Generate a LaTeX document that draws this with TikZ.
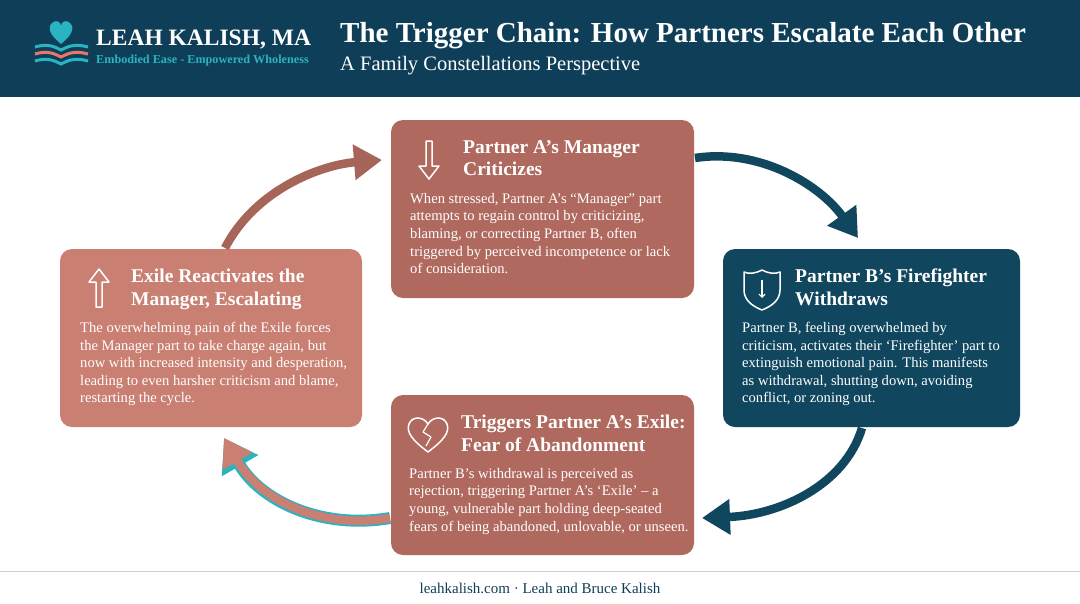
\documentclass[tikz,border=0pt]{standalone}
\usepackage{fontspec}
\setmainfont{Liberation Serif}
\usetikzlibrary{arrows.meta}
\definecolor{navy}{HTML}{0F3F58}
\definecolor{boxnavy}{HTML}{10475F}
\definecolor{brick}{HTML}{B0695E}
\definecolor{salmon}{HTML}{C97F71}
\definecolor{teal}{HTML}{2AB3C0}
\definecolor{coral}{HTML}{E8776A}
\begin{document}
\begin{tikzpicture}[x=1pt,y=-1pt,
  card/.style={rounded corners=12pt,draw=none},
  ttl/.style={anchor=north west,text=white,font=\bfseries\fontsize{19.5}{22.5}\selectfont,align=left,inner sep=0},
  bdy/.style={anchor=north west,text=white,font=\fontsize{14.6}{17.6}\selectfont,align=left,inner sep=0},
  icon/.style={white,line width=1.5pt,line join=round},
  flow/.style={line width=8.5pt,-{Triangle[length=28pt,width=34pt]}}]
\useasboundingbox (0,0) rectangle (1080,603);
\fill[white] (0,0) rectangle (1080,603);
\fill[navy] (0,0) rectangle (1080,97);
% logo
\fill[teal] (61,44) .. controls (50,35) and (47,28) .. (52,23) .. controls (56,19) and (61,22) .. (61,26) .. controls (61,22) and (66,19) .. (70,23) .. controls (75,28) and (72,35) .. (61,44) -- cycle;
\foreach \yy/\cc in {47/teal,54/coral,61/teal}{
 \draw[\cc,line width=3pt] (35,\yy) .. controls (48,\yy-4) and (55,\yy) .. (61,\yy+3) .. controls (67,\yy) and (74,\yy-4) .. (88,\yy);}
\node[anchor=west,text=white,font=\bfseries\fontsize{23.5}{26}\selectfont,inner sep=0] (brand) at (96,40) {LEAH KALISH, MA};
\node[anchor=west,text=teal,font=\bfseries\fontsize{12.2}{14}\selectfont,inner sep=0] (tag) at (96,61) {Embodied Ease - Empowered Wholeness};
\node[anchor=west,text=white,font=\bfseries\fontsize{29}{32}\selectfont,inner sep=0] (title) at (340,36) {The Trigger Chain: How Partners Escalate Each Other};
\node[anchor=west,text=white,font=\fontsize{20.5}{23}\selectfont,inner sep=0] (sub) at (340,66) {A Family Constellations Perspective};
% cards
\fill[brick,card] (391,120) rectangle (694,298);
\fill[boxnavy,card] (723,249) rectangle (1020,427);
\fill[brick,card] (391,395) rectangle (694,555);
\fill[salmon,card] (60,249) rectangle (362,427);
% icons
\draw[icon] (426,141) -- (432,141) -- (432,166) -- (439,166) -- (429,179) -- (419,166) -- (426,166) -- cycle;
\draw[icon] (96,307) -- (102,307) -- (102,282) -- (109,282) -- (99,269) -- (89,282) -- (96,282) -- cycle;
\draw[icon] (762,270) .. controls (770,274) and (775,274) .. (780,272) -- (780,290) .. controls (780,300) and (772,306) .. (762,310) .. controls (752,306) and (744,300) .. (744,290) -- (744,272) .. controls (749,274) and (754,274) .. (762,270) -- cycle;
\draw[icon,line width=1.2pt,-{Straight Barb[length=3pt]}] (762,280) -- (762,298);
\draw[icon] (428,452) .. controls (412,440) and (406,432) .. (409,424) .. controls (412,416) and (423,416) .. (428,424) .. controls (433,416) and (444,416) .. (447,424) .. controls (450,432) and (444,440) .. (428,452) -- cycle;
\draw[icon,line width=1.2pt] (428,424) -- (423,432) -- (431,437) -- (426,446);
% titles
\node[ttl] (t1) at (463,140) {Partner A’s Manager\\Criticizes};
\node[bdy] (b1) at (410,193) {When stressed, Partner A’s “Manager” part\\attempts to regain control by criticizing,\\blaming, or correcting Partner B, often\\triggered by perceived incompetence or lack\\of consideration.};
\node[ttl] (t2) at (795,269) {Partner B’s Firefighter\\Withdraws};
\node[bdy] (b2) at (742,322) {Partner B, feeling overwhelmed by\\criticism, activates their ‘Firefighter’ part to\\extinguish emotional pain. This manifests\\as withdrawal, shutting down, avoiding\\conflict, or zoning out.};
\node[ttl] (t3) at (461,415) {Triggers Partner A’s Exile:\\Fear of Abandonment};
\node[bdy] (b3) at (409,468) {Partner B’s withdrawal is perceived as\\rejection, triggering Partner A’s ‘Exile’ – a\\young, vulnerable part holding deep-seated\\fears of being abandoned, unlovable, or unseen.};
\node[ttl] (t4) at (131,269) {Exile Reactivates the\\Manager, Escalating};
\node[bdy] (b4) at (80,322) {The overwhelming pain of the Exile forces\\the Manager part to take charge again, but\\now with increased intensity and desperation,\\leading to even harsher criticism and blame,\\restarting the cycle.};
% arrows
\coordinate (a1s) at (225,248); \coordinate (a1e) at (382,160);
\coordinate (a2s) at (695,158); \coordinate (a2e) at (858,238);
\coordinate (a3s) at (862,428); \coordinate (a3e) at (702,518);
\coordinate (a4s) at (390,518); \coordinate (a4e) at (224,438);
\draw[flow,color=brick!95!black] (a1s) .. controls (255,190) and (320,165) .. (a1e);
\draw[flow,color=boxnavy] (a2s) .. controls (760,148) and (820,185) .. (a2e);
\draw[flow,color=boxnavy] (a3s) .. controls (845,485) and (780,515) .. (a3e);
\draw[flow,color=teal,line width=12pt,-{Triangle[length=32pt,width=40pt]}] (a4s) .. controls (320,530) and (260,500) .. (a4e);
\draw[flow,color=salmon,-{Triangle[length=27pt,width=33pt]}] (a4s) .. controls (320,530) and (260,500) .. (a4e);
% footer
\draw[gray!40,line width=0.8pt] (0,571) -- (1080,571);
\node[text=navy,font=\fontsize{15}{17}\selectfont,inner sep=0] (foot) at (540,588) {leahkalish.com · Leah and Bruce Kalish};
\end{tikzpicture}
\end{document}
